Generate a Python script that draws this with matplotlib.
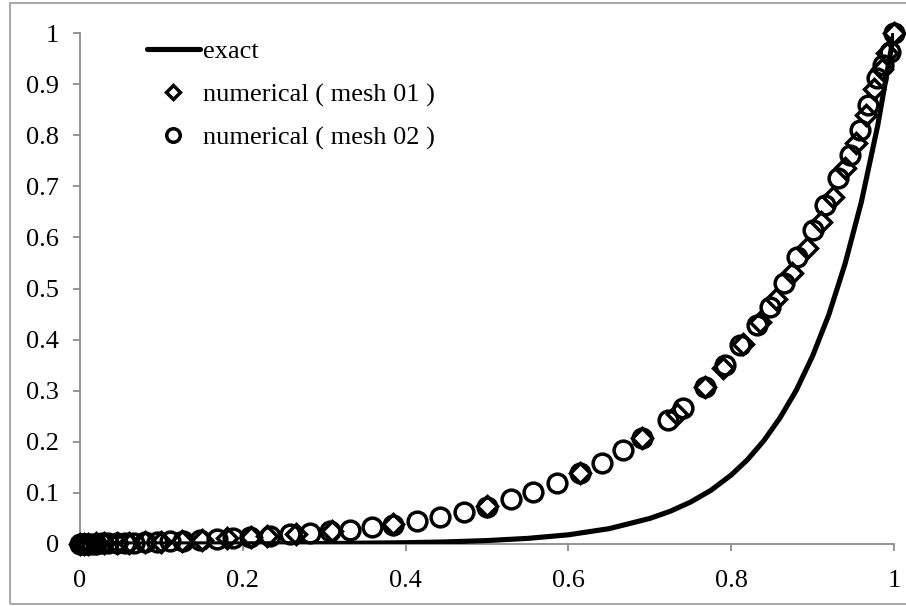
import matplotlib
matplotlib.use("Agg")
import matplotlib.pyplot as plt
from matplotlib.patches import Rectangle

# exact solution
x_exact = [0, 0.1, 0.2, 0.3, 0.4, 0.45, 0.5, 0.55, 0.6, 0.65, 0.7, 0.725, 0.75,
           0.775, 0.8, 0.82, 0.84, 0.86, 0.88, 0.9, 0.92, 0.94, 0.96, 0.98, 1.0]
y_exact = [0, 0.0001, 0.0003, 0.0009, 0.0025, 0.0041, 0.0067, 0.011, 0.018, 0.030,
           0.050, 0.064, 0.082, 0.105, 0.135, 0.165, 0.202, 0.247, 0.301, 0.368,
           0.449, 0.549, 0.670, 0.819, 1.0]

# numerical, mesh 01 (diamonds)
x_m1 = [0, 0.005, 0.01, 0.02, 0.03, 0.045, 0.06, 0.08, 0.1, 0.125, 0.15, 0.18, 0.21,
        0.23, 0.265, 0.31, 0.385, 0.5, 0.614, 0.69, 0.733, 0.768, 0.79, 0.815, 0.835,
        0.855, 0.875, 0.893, 0.91, 0.925, 0.94, 0.953, 0.965, 0.975, 0.985, 0.992, 1.0]
y_m1 = [0, 0, 0, 0.001, 0.001, 0.002, 0.002, 0.003, 0.004, 0.006, 0.008, 0.011, 0.014,
        0.016, 0.020, 0.025, 0.039, 0.074, 0.138, 0.207, 0.255, 0.307, 0.345, 0.392, 0.435,
        0.48, 0.53, 0.58, 0.63, 0.68, 0.735, 0.785, 0.84, 0.89, 0.93, 0.96, 1.0]

# numerical, mesh 02 (circles)
x_m2 = [0, 0.003, 0.006, 0.01, 0.015, 0.02, 0.027, 0.035, 0.045, 0.055, 0.066, 0.08,
        0.095, 0.11, 0.127, 0.147, 0.168, 0.188, 0.209, 0.233, 0.258, 0.283, 0.307,
        0.332, 0.359, 0.385, 0.414, 0.442, 0.472, 0.5, 0.53, 0.557, 0.586, 0.614, 0.641,
        0.667, 0.69, 0.722, 0.741, 0.768, 0.792, 0.811, 0.832, 0.848, 0.865, 0.881, 0.9,
        0.915, 0.931, 0.946, 0.958, 0.968, 0.979, 0.986, 0.995, 1.0]
y_m2 = [0, 0, 0, 0, 0, 0, 0.001, 0.001, 0.001, 0.002, 0.002, 0.003,
        0.004, 0.005, 0.006, 0.008, 0.010, 0.012, 0.014, 0.016, 0.019, 0.022, 0.025,
        0.028, 0.033, 0.038, 0.045, 0.053, 0.063, 0.073, 0.088, 0.102, 0.119, 0.139, 0.159,
        0.184, 0.207, 0.243, 0.266, 0.307, 0.35, 0.389, 0.429, 0.464, 0.51, 0.562, 0.614,
        0.663, 0.716, 0.761, 0.81, 0.859, 0.912, 0.937, 0.963, 1.0]

x_ticks = [0, 0.2, 0.4, 0.6, 0.8, 1]
x_ticklabels = ["0", "0.2", "0.4", "0.6", "0.8", "1"]
y_ticks = [0, 0.1, 0.2, 0.3, 0.4, 0.5, 0.6, 0.7, 0.8, 0.9, 1]
y_ticklabels = ["0", "0.1", "0.2", "0.3", "0.4", "0.5", "0.6", "0.7", "0.8", "0.9", "1"]

plt.rcParams['font.family'] = ['Liberation Serif', 'DejaVu Serif']

W, H = 906, 606
FS = 19
fig = plt.figure(figsize=(W / 100, H / 100), dpi=100)
ax = fig.add_axes([80 / W, 1 - 544 / H, (894 - 80) / W, (544 - 33) / H])

# outer chart border
fig.patches.append(Rectangle((10 / W, 2 / H), 1.2, 601 / H, transform=fig.transFigure,
                             fill=False, edgecolor='#9a9a9a', lw=1.2))

ax.plot(x_exact, y_exact, color='black', lw=3.7, label='exact', zorder=3,
        solid_capstyle='round')
ax.plot(x_m1, y_m1, linestyle='none', marker='D', markersize=10, markerfacecolor='none',
        markeredgecolor='black', markeredgewidth=2.5, label='numerical ( mesh 01 )',
        clip_on=False, zorder=4)
ax.plot(x_m2, y_m2, linestyle='none', marker='o', markersize=13.5, markerfacecolor='none',
        markeredgecolor='black', markeredgewidth=2.5, label='numerical ( mesh 02 )',
        clip_on=False, zorder=4)

ax.set_xlim(0, 1)
ax.set_ylim(0, 1)
ax.set_xticks(x_ticks)
ax.set_xticklabels(x_ticklabels)
ax.set_yticks(y_ticks)
ax.set_yticklabels(y_ticklabels)

for s in ['top', 'right']:
    ax.spines[s].set_visible(False)
for s in ['left', 'bottom']:
    ax.spines[s].set_color('#8c8c8c')
    ax.spines[s].set_linewidth(1.3)
ax.tick_params(axis='both', direction='out', length=5, width=1.3, color='#8c8c8c',
               labelsize=FS, pad=10)
ax.tick_params(axis='x', pad=14)

leg = ax.legend(loc='upper left', bbox_to_anchor=(123 / W, 1 - 16 / H),
                bbox_transform=fig.transFigure, frameon=False, fontsize=FS,
                handlelength=2.0, handletextpad=0.15, labelspacing=0.74,
                markerscale=0.72)

fig.savefig('out.png', dpi=100)
